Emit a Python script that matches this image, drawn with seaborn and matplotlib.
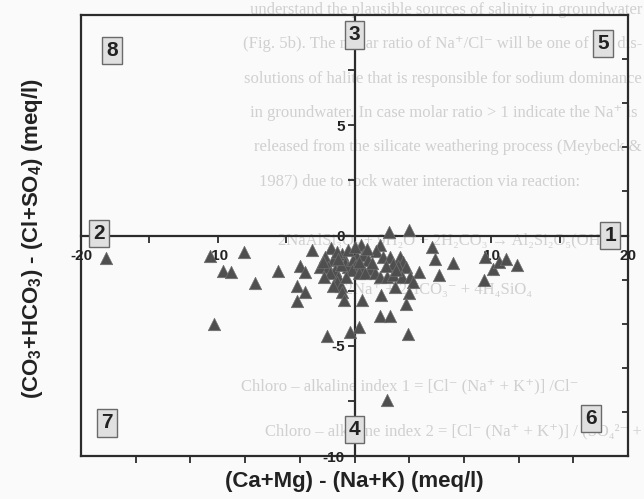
import matplotlib
matplotlib.use("Agg")
import matplotlib.pyplot as plt
import seaborn as sns
import numpy as np
import pandas as pd

# ---------------- data ----------------
cation_diff = [
    -18.2, -10.6, -8.1, -9.6, -9.0, -7.25, -10.3, -5.6, -3.1, -4.0, -3.65, -4.2, -3.6, -4.2,
    -1.7, -2.15, -1.6, -2.5, -1.95, -1.4, -1.8, -1.2, -1.3, -1.0, -0.9, -0.8, -0.95, -0.7,
    -0.45, 0.15, -0.1, 0.5, 0.65, 0.05, 0.5, -0.2, 0.3, 1.0, 1.1, 0.8, 1.85, 1.6, 2.1, 2.5,
    1.5, 1.85, 2.35, 1.95, 0.55, 1.9, 2.6, 0.3, -0.35, -2.0, 2.4,
    -1.3, -0.5, 0.9, -1.0, 0.3, -2.2, -1.6, 1.3, -0.6, 0.0, -2.3, -1.2,
    3.95, 5.7, 5.9, 7.2, 6.2, 9.5, 10.1, 9.55, 10.6, 11.1, 11.85, 2.6, 3.3, 3.55, 3.2, 3.8,
    4.7, 2.85, 3.45, 4.05, 4.25, 2.95, 4.0, 3.75, 3.9, 2.8, 2.3, 3.0,
]
anion_diff = [
    -1.0, -0.95, -0.73, -1.6, -1.65, -2.15, -4.0, -1.6, -0.68, -1.38, -1.65, -2.3, -2.55, -2.95,
    -0.58, -0.96, -1.1, -1.44, -1.44, -1.56, -1.7, -1.87, -2.1, -2.3, -2.55, -2.92, -0.84, -1.26,
    -1.44, -0.96, -1.1, -0.43, -0.88, -1.38, -1.44, -1.56, -1.7, -1.1, -1.5, -1.7, -0.45, -0.7, -0.96, 0.17,
    -1.7, -1.87, -1.87, -2.7, -2.93, -3.65, -3.65, -4.13, -4.36, -4.58, -7.46,
    -0.75, -0.65, -0.6, -1.35, -1.2, -1.9, -2.3, -1.25, -1.9, -0.5, -1.2, -1.05,
    0.25, -0.5, -1.08, -1.26, -1.78, -2.02, -1.53, -0.99, -1.19, -1.05, -1.34, -0.96, -0.96, -1.19, -1.38, -1.41,
    -1.66, -1.79, -1.87, -1.9, -2.1, -2.32, -2.62, -3.12, -4.45, -1.3, -1.4, -1.55,
]

x_tick_values = [-20, -15, -10, -5, 0, 5, 10, 15, 20]
x_tick_labels = ["-20", "", "-10", "", "", "", "10", "", "20"]
y_tick_values = [-10, -7.5, -5, -2.5, 0, 2.5, 5, 7.5, 10]
y_tick_labels = ["-10", "", "-5", "", "0", "", "5", "", ""]

field_labels = ["1", "2", "3", "4", "5", "6", "7", "8"]
field_x = [18.7, -18.7, 0.0, 0.0, 18.2, 17.3, -18.1, -17.7]
field_y = [0.0, 0.1, 9.1, -8.8, 8.7, -8.3, -8.5, 8.4]

x_title = "(Ca+Mg) - (Na+K) (meq/l)"
y_title = "(CO$_3$+HCO$_3$) - (Cl+SO$_4$) (meq/l)"

# faint text of the scanned page showing through
page_lines = [
    "understand the plausible sources of salinity in groundwater",
    "(Fig. 5b). The molar ratio of Na\u207a/Cl\u207b will be one of the dis-",
    "solutions of halite that is responsible for sodium dominance",
    "in groundwater. In case molar ratio > 1 indicate the Na\u207a is",
    "released from the silicate weathering process (Meybeck &",
    "1987) due to rock water interaction via reaction:",
    "2NaAlSi\u2083O\u2088 + 9H\u2082O + 2H\u2082CO\u2083 \u2192 Al\u2082Si\u2082O\u2085(OH)\u2084",
    "\u2192 2Na\u207a + 2HCO\u2083\u207b + 4H\u2084SiO\u2084",
    "Chloro \u2013 alkaline index 1 = [Cl\u207b (Na\u207a + K\u207a)] /Cl\u207b",
    "Chloro \u2013 alkaline index 2 = [Cl\u207b (Na\u207a + K\u207a)] / (SO\u2084\u00b2\u207b +",
]
page_line_end = [642, 642, 642, 638, 642, 580, 612, 532, 578, 642]
page_line_y = [10, 44, 79, 113, 147, 181, 240, 290, 386, 431]

# ---------------- style ----------------
sns.set_theme(style="white")
plt.rcParams["font.family"] = ["Liberation Sans", "DejaVu Sans"]
plt.rcParams["mathtext.fontset"] = "custom"
plt.rcParams["mathtext.rm"] = "Liberation Sans:bold"
plt.rcParams["mathtext.it"] = "Liberation Sans:bold"
plt.rcParams["mathtext.bf"] = "Liberation Sans:bold"
plt.rcParams["mathtext.default"] = "rm"

W, H = 644, 499
fig = plt.figure(figsize=(W / 100, H / 100), dpi=100, facecolor="#fafafa")
pos = [81 / W, 43 / H, 547 / W, 441 / H]
line_col = "#2b2b2b"

for txt, px, py in zip(page_lines, page_line_end, page_line_y):
    fig.text(px / W, 1 - py / H, txt, fontsize=12, family=["Liberation Serif", "DejaVu Serif"],
             color="#d0d0d0", va="center", ha="right", zorder=-5)

# outer frame with its own ticks
frame = fig.add_axes(pos)
frame.set_xlim(-20, 20)
frame.set_ylim(-10, 10)
frame.patch.set_visible(False)
for s in frame.spines.values():
    s.set_linewidth(1.6)
    s.set_color(line_col)
frame.set_xticks(np.arange(-16, 17, 4))
frame.set_xticklabels([])
frame.tick_params(axis="x", bottom=True, top=False, direction="out", length=5, width=1.3, color=line_col)
frame.yaxis.tick_right()
frame.set_yticks(np.arange(-8, 9, 2))
frame.set_yticklabels([])
frame.tick_params(axis="y", left=False, right=True, direction="in", length=4, width=1.3, color=line_col)

# main axes with centred axes
ax = fig.add_axes(pos)
ax.set_zorder(frame.get_zorder() + 1)
ax.patch.set_visible(False)
df = pd.DataFrame({"x": cation_diff, "y": anion_diff})
sns.scatterplot(data=df, x="x", y="y", ax=ax, marker="^", s=80, color="#4f4f4f",
                edgecolor="#6f6f6f", linewidth=0.5, zorder=5, legend=False)
ax.set_xlim(-20, 20)
ax.set_ylim(-10, 10)
ax.spines["left"].set_position(("data", 0))
ax.spines["bottom"].set_position(("data", 0))
ax.spines["top"].set_visible(False)
ax.spines["right"].set_visible(False)
for k in ("left", "bottom"):
    ax.spines[k].set_linewidth(1.6)
    ax.spines[k].set_color(line_col)
ax.set_xticks(x_tick_values, x_tick_labels)
ax.set_yticks(y_tick_values, y_tick_labels)
ax.xaxis.set_ticks_position("bottom")
ax.yaxis.set_ticks_position("left")
ax.tick_params(axis="x", direction="out", length=5, width=1.3, color=line_col, pad=5,
               labelsize=11, labelcolor="#222222")
ax.tick_params(axis="y", direction="out", length=5, width=1.3, color=line_col, pad=2,
               labelsize=11, labelcolor="#222222")
for lbl in ax.get_xticklabels() + ax.get_yticklabels():
    lbl.set_fontweight("bold")
ax.set_xlabel("")
ax.set_ylabel("")

for lab, fx, fy in zip(field_labels, field_x, field_y):
    ax.text(fx, fy, lab, ha="center", va="center", fontsize=15, fontweight="bold", color="#222222",
            zorder=6, bbox=dict(boxstyle="square,pad=0.2", fc="#e0e0e0", ec="#6a6a6a", lw=1.0))

fig.text(354.5 / W, 1 - 482 / H, x_title, ha="center", va="center", fontsize=16,
         fontweight="bold", color="#222222")
fig.text(33 / W, 1 - 239 / H, y_title, ha="center", va="center", rotation=90, fontsize=16,
         fontweight="bold", color="#222222")

fig.savefig("out.png", dpi=100, facecolor=fig.get_facecolor())
